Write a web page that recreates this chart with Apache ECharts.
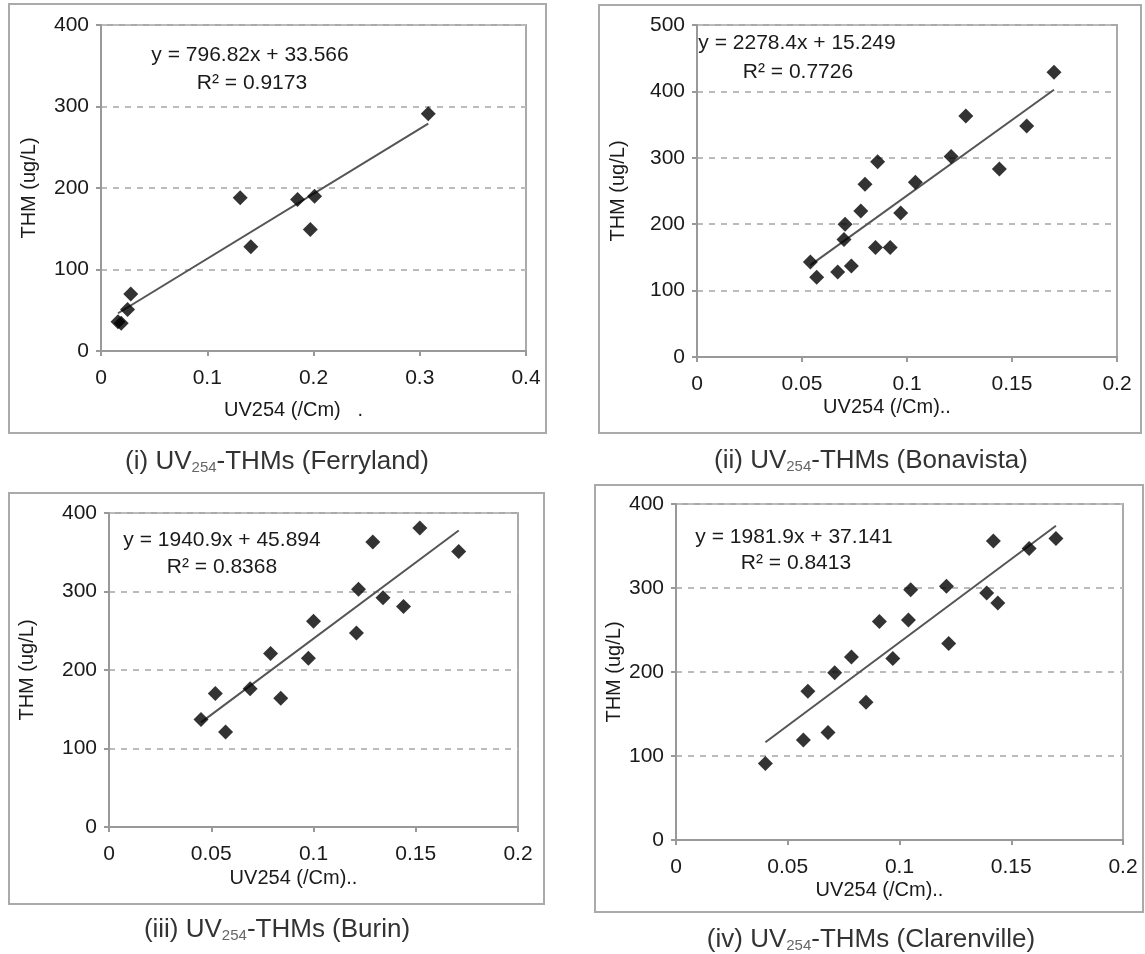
<!DOCTYPE html>
<html>
<head>
<meta charset="utf-8">
<title>UV254-THMs</title>
<script src="https://cdn.jsdelivr.net/npm/echarts@6/dist/echarts.min.js"></script>
<style>
  html, body { margin: 0; padding: 0; background: #fff; }
  #chart { width: 1145px; height: 954px; }
</style>
</head>
<body>
<div id="chart"></div>
<script>
// (i) Ferryland
const ferrylandUV  = [0.016, 0.019, 0.025, 0.028, 0.131, 0.141, 0.185, 0.197, 0.201, 0.308];
const ferrylandTHM = [36, 34, 51, 70, 188, 128, 186, 149, 190, 291];

// (ii) Bonavista
const bonavistaUV  = [0.054, 0.057, 0.067, 0.070, 0.0705, 0.0735, 0.078, 0.080, 0.085, 0.086, 0.092, 0.097, 0.104, 0.121, 0.128, 0.144, 0.157, 0.170];
const bonavistaTHM = [143, 120, 128, 177, 200, 137, 220, 260, 165, 294, 165, 217, 263, 302, 363, 283, 348, 429];

// (iii) Burin
const burinUV  = [0.045, 0.052, 0.057, 0.069, 0.079, 0.084, 0.0975, 0.100, 0.121, 0.122, 0.129, 0.134, 0.144, 0.152, 0.171];
const burinTHM = [137, 170, 121, 176, 221, 164, 215, 262, 247, 303, 363, 292, 281, 381, 351];

// (iv) Clarenville
const clarenvilleUV  = [0.040, 0.057, 0.059, 0.068, 0.071, 0.0785, 0.085, 0.091, 0.097, 0.104, 0.105, 0.121, 0.122, 0.139, 0.142, 0.144, 0.158, 0.170];
const clarenvilleTHM = [91, 119, 177, 128, 199, 218, 164, 260, 216, 262, 298, 302, 234, 294, 356, 282, 347, 359];

// linear trendlines (from the figure)
const slopes     = [796.82, 2278.4, 1940.9, 1981.9];
const intercepts = [33.566, 15.249, 45.894, 37.141];
const rSquared   = ['0.9173', '0.7726', '0.8368', '0.8413'];

// axis ranges / tick steps
const xMax  = [0.4, 0.2, 0.2, 0.2];
const xStep = [0.1, 0.05, 0.05, 0.05];
const yMax  = [400, 500, 400, 400];
const yStep = [100, 100, 100, 100];

const captions = ['(i)', '(ii)', '(iii)', '(iv)'];
const sites    = ['Ferryland', 'Bonavista', 'Burin', 'Clarenville'];
const xNames   = ['UV254 (/Cm)   .', 'UV254 (/Cm)..', 'UV254 (/Cm)..', 'UV254 (/Cm)..'];
const yName    = 'THM (ug/L)';

const uvData  = [ferrylandUV, bonavistaUV, burinUV, clarenvilleUV];
const thmData = [ferrylandTHM, bonavistaTHM, burinTHM, clarenvilleTHM];

// layout of the four panels
const FONT = '"Liberation Sans", Arial, sans-serif';
const grids = [
  { left: 101, top: 25,  width: 425, height: 326 },
  { left: 697, top: 25,  width: 420, height: 332 },
  { left: 109, top: 513, width: 409, height: 314 },
  { left: 676, top: 504, width: 447, height: 336 }
];
const frames = [
  { x: 9,   y: 4,   width: 537, height: 429 },
  { x: 599, y: 5,   width: 542, height: 428 },
  { x: 9,   y: 493, width: 535, height: 411 },
  { x: 595, y: 485, width: 548, height: 427 }
];
const eqPos  = [[250, 55], [797, 43], [222, 540], [794, 537]];
const r2Pos  = [[252, 83], [798, 72], [222, 567], [796, 563]];
const capPos = [[277, 460], [871, 459], [277, 928], [871, 938]];
const xNameGap = [49, 40, 41, 40];
const yNameGap = [62, 69, 72, 52];

let chart = echarts.init(document.getElementById('chart'));

let xAxes = [], yAxes = [], series = [], graphics = [];

for (let i = 0; i < 4; i++) {
  xAxes.push({
    gridIndex: i, type: 'value', min: 0, max: xMax[i], interval: xStep[i],
    name: xNames[i], nameLocation: 'middle', nameGap: xNameGap[i],
    nameTextStyle: { fontSize: 20, color: '#1a1a1a', fontFamily: FONT, padding: [0, 40, 0, 0] },
    axisLine: { show: true, lineStyle: { color: '#999', width: 2 } },
    axisTick: { show: true, length: 5, lineStyle: { color: '#999', width: 2 } },
    axisLabel: { fontSize: 21, color: '#1a1a1a', fontFamily: FONT, margin: 17, showMinLabel: true, showMaxLabel: true },
    splitLine: { show: false }
  });
  yAxes.push({
    gridIndex: i, type: 'value', min: 0, max: yMax[i], interval: yStep[i],
    name: yName, nameLocation: 'middle', nameGap: yNameGap[i], nameRotate: 90,
    nameTextStyle: { fontSize: 20, color: '#1a1a1a', fontFamily: FONT },
    axisLine: { show: true, lineStyle: { color: '#999', width: 2 } },
    axisTick: { show: true, length: 5, lineStyle: { color: '#999', width: 2 } },
    axisLabel: { fontSize: 21, color: '#1a1a1a', fontFamily: FONT, margin: 12 },
    splitLine: { show: true, lineStyle: { color: '#bbb', width: 2, type: [6, 6] } }
  });

  let pts = uvData[i].map((x, k) => [x, thmData[i][k]]);
  let x0 = Math.min(...uvData[i]), x1 = Math.max(...uvData[i]);
  series.push({
    type: 'line', xAxisIndex: i, yAxisIndex: i, silent: true, showSymbol: false, z: 2,
    lineStyle: { color: '#555', width: 2 },
    data: [[x0, slopes[i] * x0 + intercepts[i]], [x1, slopes[i] * x1 + intercepts[i]]]
  });
  series.push({
    type: 'scatter', xAxisIndex: i, yAxisIndex: i, z: 3,
    symbol: 'diamond', symbolSize: 15,
    itemStyle: { color: '#000' },
    data: pts
  });

  // outer frame of each sub-figure
  graphics.push({
    type: 'rect', shape: frames[i], silent: true,
    style: { fill: 'none', stroke: '#aaa', lineWidth: 2 }
  });
  // trendline equation
  graphics.push({
    type: 'text', x: eqPos[i][0], y: eqPos[i][1],
    style: { text: 'y = ' + slopes[i] + 'x + ' + intercepts[i], fontSize: 21, fontFamily: FONT,
             fill: '#1a1a1a', align: 'center', verticalAlign: 'middle' }
  });
  graphics.push({
    type: 'text', x: r2Pos[i][0], y: r2Pos[i][1],
    style: { text: 'R² = ' + rSquared[i], fontSize: 21, fontFamily: FONT,
             fill: '#1a1a1a', align: 'center', verticalAlign: 'middle' }
  });
  // caption with subscript
  graphics.push({
    type: 'text', x: capPos[i][0], y: capPos[i][1],
    style: {
      text: '{n|' + captions[i] + ' UV}{s|254}{n|-THMs (' + sites[i] + ')}',
      align: 'center', verticalAlign: 'middle',
      rich: {
        n: { fontSize: 26, fontFamily: FONT, fill: '#333', lineHeight: 30, verticalAlign: 'bottom' },
        s: { fontSize: 15, fontFamily: FONT, fill: '#666', lineHeight: 15, verticalAlign: 'bottom' }
      }
    }
  });
}

chart.setOption({
  animation: false,
  backgroundColor: '#fff',
  grid: grids.map(g => Object.assign({ show: true, borderColor: '#aaa', borderWidth: 2 }, g)),
  xAxis: xAxes,
  yAxis: yAxes,
  series: series,
  graphic: graphics
});
</script>
</body>
</html>
